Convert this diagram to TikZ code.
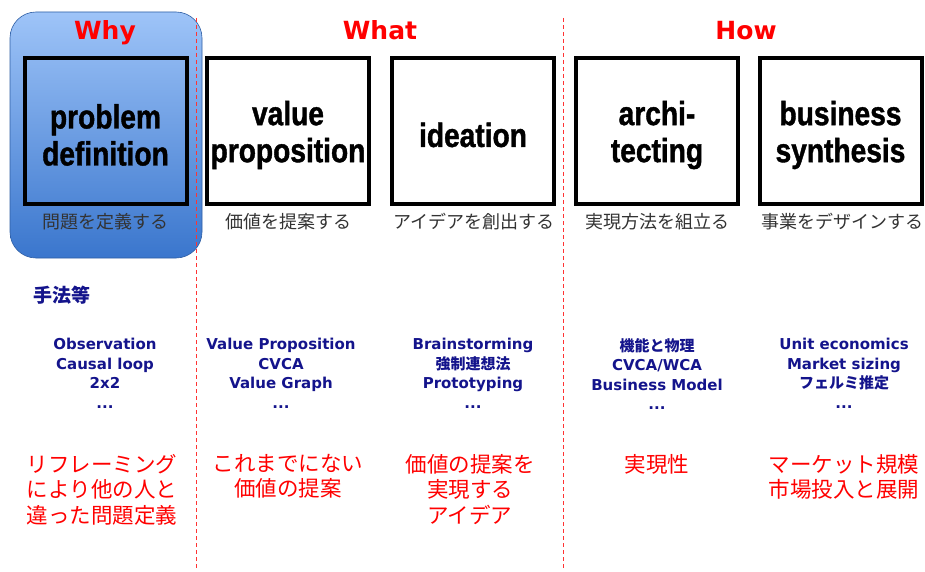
\documentclass[tikz,border=0pt]{standalone}
\usepackage{fontspec}
\setmainfont{DejaVu Sans}
\newfontfamily\jp{Noto Sans CJK JP}
\newfontfamily\boxf{Liberation Sans}[UprightFont={* Bold}, FakeStretch=0.84, FakeBold=1.2]
\definecolor{navy}{RGB}{20,20,140}
\definecolor{redt}{RGB}{255,0,0}
\definecolor{bluetop}{RGB}{158,196,248}
\definecolor{bluebot}{RGB}{58,118,205}
\tikzset{
  x=1pt, y=-1pt,
  heading/.style={text=redt, font=\fontsize{25}{28}\selectfont\bfseries, inner sep=0pt, anchor=base},
  stepbox/.style={draw=black, line width=4pt, minimum width=162pt, minimum height=145pt, inner sep=0pt},
  boxtext/.style={align=center, inner sep=0pt, font=\boxf\fontsize{33.5}{37}\selectfont},
  subtitle/.style={font=\jp\fontsize{18}{20}\selectfont, text=black!80, inner sep=0pt},
  meth/.style={align=center, text=navy, font=\fontsize{15}{19.5}\selectfont\bfseries, inner sep=0pt, anchor=north},
  result/.style={align=center, text=redt, font=\jp\fontsize{21.5}{25.5}\selectfont, inner sep=0pt, anchor=north},
  divider/.style={draw=redt!80!white, line width=0.9pt, dash pattern=on 4pt off 3pt},
}
\begin{document}
\begin{tikzpicture}
\fill[white] (0,0) rectangle (925,572);
\useasboundingbox (0,0) rectangle (925,572);
% highlighted background for "Why"
\shade[top color=bluetop, bottom color=bluebot, draw=bluebot!80!black, line width=0.6pt, rounded corners=26pt]
  (10,12) rectangle (202,258);
% dividers
\coordinate (d1t) at (196,18); \coordinate (d1b) at (196,570);
\coordinate (d2t) at (563,18); \coordinate (d2b) at (563,570);
\draw[divider] (d1t) -- (d1b);
\draw[divider] (d2t) -- (d2b);
% headings
\node[heading] (why) at (105,40) {Why};
\node[heading] (what) at (380,40) {What};
\node[heading] (how) at (746,40) {How};
% boxes
\node[stepbox] (b1) at (105.5,131) {};
\node[stepbox] (b2) at (288,131) {};
\node[stepbox] (b3) at (473,131) {};
\node[stepbox] (b4) at (657,131) {};
\node[stepbox] (b5) at (840.5,131) {};
\node[boxtext] (t1) at ([yshift=-4pt]b1.center) {problem\\definition};
\node[boxtext] (t2) at ([yshift=-4pt]b2.center) {value\\proposition};
\node[boxtext] (t3) at ([yshift=-4pt]b3.center) {ideation};
\node[boxtext] (t4) at ([yshift=-4pt]b4.center) {archi-\\tecting};
\node[boxtext] (t5) at ([yshift=-4pt]b5.center) {business\\synthesis};
% subtitles
\node[subtitle] (s1) at (105,222) {問題を定義する};
\node[subtitle] (s2) at (288,222) {価値を提案する};
\node[subtitle] (s3) at (474,222) {アイデアを創出する};
\node[subtitle] (s4) at (657,222) {実現方法を組立る};
\node[subtitle] (s5) at (842,222) {事業をデザインする};
% methods
\node[text=navy, font=\jp\bfseries\fontsize{19}{22}\selectfont, inner sep=0pt, anchor=west] (tech) at (33,295) {手法等};
\node[meth] (m1) at (105,338) {Observation\\Causal loop\\2x2\\...};
\node[meth] (m2) at (281,338) {Value Proposition\\CVCA\\Value Graph\\...};
\node[meth] (m3) at (473,338) {Brainstorming\\{\jp\bfseries 強制連想法}\\Prototyping\\...};
\node[meth] (m4) at (657,338) {{\jp\bfseries 機能と物理}\\CVCA/WCA\\Business Model\\...};
\node[meth] (m5) at (844,338) {Unit economics\\Market sizing\\{\jp\bfseries フェルミ推定}\\...};
% results
\node[result] (r1) at (102,454) {リフレーミング\\により他の人と\\違った問題定義};
\node[result] (r2) at (288,454) {これまでにない\\価値の提案};
\node[result] (r3) at (470,454) {価値の提案を\\実現する\\アイデア};
\node[result] (r4) at (657,454) {実現性};
\node[result] (r5) at (844,454) {マーケット規模\\市場投入と展開};
\end{tikzpicture}
\end{document}
